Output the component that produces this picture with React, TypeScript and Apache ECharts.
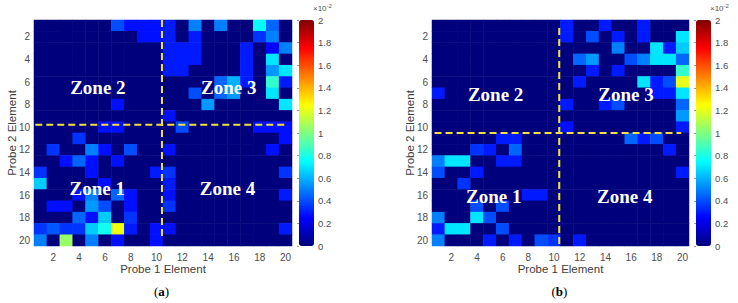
import React, { useEffect, useRef } from "react";
import * as echarts from "echarts";

// Element indices (categories for both axes)
const elements = ["1","2","3","4","5","6","7","8","9","10","11","12","13","14","15","16","17","18","19","20"];

// Colorbar scale (x10^-2)
const colorMin = 0;
const colorMax = 2;
const colorStep = 0.2;

// Probe-2 element rows (1..20), probe-1 element columns (1..20), values x10^-2 — panel (a)
const matrixA: number[][] = [
  [0,0,0,0,0,0,0.4,0.28,0.28,0.28,0.3,0,0.5,0,0.5,0,0,0.75,0.45,0],
  [0,0,0,0,0,0,0,0,0.28,0.28,0.3,0,0.3,0,0,0,0,0.35,0.5,0],
  [0,0,0,0,0,0,0,0,0,0,0.3,0.3,0.3,0,0,0,0.3,0,0.25,0.5],
  [0,0,0,0,0,0,0,0,0,0,0.3,0.3,0.3,0,0,0,0.3,0,0.7,0],
  [0,0,0,0,0,0,0,0,0,0,0.3,0.3,0,0,0,0,0.3,0,0.55,0.7],
  [0,0,0,0,0,0,0,0,0,0,0,0,0,0,0.45,0.6,0.3,0,0.85,0.3],
  [0,0,0,0,0,0,0,0,0,0,0,0,0.4,0,0.45,0.55,0,0,0.7,0],
  [0,0,0,0,0,0,0.28,0,0,0,0,0,0,0.55,0,0,0,0,0,0.7],
  [0,0,0,0,0,0,0,0,0,0,0.28,0,0,0,0,0,0,0,0,0],
  [0,0,0,0,0,0.28,0.28,0,0,0,0,0.4,0,0,0,0,0,0.28,0.28,0.28],
  [0,0,0,0.35,0,0,0,0,0,0,0,0,0,0,0,0,0,0,0,0.28],
  [0,0.35,0,0,0.5,0.28,0,0.4,0,0,0.28,0,0,0,0,0,0,0,0.28,0],
  [0,0,0.28,0.45,0.28,0,0.28,0,0,0,0,0,0,0,0,0,0,0,0,0],
  [0.35,0,0,0,0.28,0,0,0,0,0.3,0.35,0,0,0,0,0,0,0,0,0.35],
  [0.65,0,0,0,0,0.28,0,0,0,0,0.3,0,0,0,0,0,0,0,0,0],
  [0,0,0,0.28,0.5,0,0.45,0.28,0,0,0.28,0,0,0,0,0,0,0,0,0.3],
  [0,0.28,0.28,0,0.55,0.4,0,0.28,0,0,0.35,0,0,0,0,0,0,0,0,0],
  [0,0,0,0.45,0.28,0.65,0,0.35,0,0,0,0,0,0,0,0,0,0,0,0],
  [0.35,0.42,0.35,0.35,0.65,0.78,1.22,0.3,0,0.28,0.28,0,0,0,0,0,0,0,0,0.3],
  [0.5,0,1.05,0,0.5,0,0.28,0,0,0.28,0,0,0,0,0,0,0,0,0,0],
];

// Panel (b)
const matrixB: number[][] = [
  [0,0,0,0,0,0,0,0,0,0,0.3,0,0,0.3,0,0,0.3,0,0,0],
  [0,0,0,0,0,0,0,0,0,0,0.3,0,0.4,0,0.3,0,0.3,0,0,0.7],
  [0,0,0,0,0,0,0,0,0,0,0,0,0,0,0.5,0,0,0.7,0.3,0.65],
  [0,0,0,0,0,0,0,0,0,0,0,0.45,0.55,0,0,0.4,0.5,0.7,0.7,0.45],
  [0,0,0,0,0,0,0,0,0,0,0,0,0.3,0,0.3,0,0,0,0,0.85],
  [0,0,0,0,0,0,0,0,0,0,0,0.3,0,0,0,0,0.7,0.3,0.4,1.2],
  [0.3,0,0,0,0,0,0,0,0,0,0,0,0,0,0,0,0,0.3,0.3,0.7],
  [0,0,0,0,0,0,0,0,0,0,0.3,0,0,0.3,0.4,0,0,0,0,0.45],
  [0,0,0,0,0,0,0,0,0,0,0,0,0,0,0,0,0,0,0,0.55],
  [0,0,0,0,0,0,0,0,0,0,0.28,0,0,0,0,0,0,0,0,0.3],
  [0,0,0,0,0,0.3,0.3,0,0,0,0,0,0,0,0,0.45,0.3,0.4,0,0],
  [0,0,0,0.35,0.3,0,0.45,0,0,0,0,0,0,0,0,0,0,0,0.3,0],
  [0.5,0.7,0.7,0,0,0.3,0.3,0,0,0,0,0,0,0,0,0,0,0,0,0],
  [0.4,0,0,0.3,0,0,0,0,0,0,0,0,0,0,0,0,0,0,0,0.3],
  [0,0,0.35,0,0,0,0,0,0,0,0,0,0,0,0,0,0,0,0,0],
  [0,0,0,0,0,0,0,0.3,0.3,0,0,0,0,0,0,0,0,0,0,0],
  [0,0,0,0.4,0,0.4,0,0,0,0,0,0,0,0,0,0,0,0,0,0],
  [0.5,0,0,0.7,0.4,0,0,0,0,0,0,0,0,0,0,0,0,0,0,0],
  [0.3,0.7,0.7,0,0,0.4,0,0,0,0,0,0,0,0,0,0,0,0,0,0],
  [0.5,0,0,0,0.3,0,0.3,0,0.4,0.35,0,0.3,0,0,0,0,0,0,0,0],
];

// Zone annotation positions (element coordinates)
const zonesA = [
  { name: "Zone 2", value: [5.45, 6.5] },
  { name: "Zone 3", value: [15.6, 6.5] },
  { name: "Zone 1", value: [5.4, 15.4] },
  { name: "Zone 4", value: [15.5, 15.4] },
];
const zonesB = [
  { name: "Zone 2", value: [5.45, 7.1] },
  { name: "Zone 3", value: [15.6, 7.1] },
  { name: "Zone 1", value: [5.3, 16.1] },
  { name: "Zone 4", value: [15.5, 16.1] },
];

// Zone dividers (element coordinates)
const dividerVA = [[10.42, 0.5], [10.42, 19.9]];
const dividerHA = [[0.6, 9.76], [20.0, 9.76]];
const dividerVB = [[10.4, 1.2], [10.4, 20.5]];
const dividerHB = [[0.7, 10.5], [19.9, 10.5]];

const jet = ["#00007c", "#0000ff", "#0080ff", "#00ffff", "#80ff80", "#ffff00", "#ff8000", "#ff0000", "#800000"];
const tickColor = "#4d4d4d";
const sans = "Liberation Sans, Arial, sans-serif";
const serif = "Liberation Serif, Times New Roman, serif";

function toCells(m: number[][]) {
  const out: number[][] = [];
  m.forEach((row, r) => row.forEach((v, c) => out.push([c, r, v])));
  return out;
}

export default function App() {
  const ref = useRef<HTMLDivElement>(null);
  useEffect(() => {
    if (!ref.current) return;
    const chart = echarts.init(ref.current, undefined, { renderer: "svg" });

    const panels = [
      { left: 34, width: 258, cbLeft: 299 },
      { left: 432, width: 257, cbLeft: 696 },
    ];
    const top = 20;
    const height = 226;

    const grids: any[] = [];
    const xAxes: any[] = [];
    const yAxes: any[] = [];
    panels.forEach((p) => {
      grids.push({ left: p.left, top, width: p.width, height });
      grids.push({ left: p.cbLeft, top, width: 15, height });
    });

    panels.forEach((_, i) => {
      const g = i * 2;
      xAxes.push({
        type: "category", gridIndex: g, data: elements, position: "bottom",
        axisLine: { show: false }, axisTick: { show: false }, splitLine: { show: false },
        axisLabel: { interval: (idx: number) => idx % 2 === 1, color: tickColor, fontFamily: sans, fontSize: 10, margin: 6 },
        name: "Probe 1 Element", nameLocation: "middle", nameGap: 17, nameMoveOverlap: false,
        nameTextStyle: { color: "#404040", fontFamily: sans, fontSize: 11.5 },
      });
      yAxes.push({
        type: "category", gridIndex: g, data: elements, inverse: true,
        axisLine: { show: false }, axisTick: { show: false }, splitLine: { show: false },
        axisLabel: { interval: (idx: number) => idx % 2 === 1, color: tickColor, fontFamily: sans, fontSize: 10, margin: 4 },
        name: "Probe 2 Element", nameLocation: "middle", nameGap: 16, nameRotate: 90, nameMoveOverlap: false,
        nameTextStyle: { color: "#404040", fontFamily: sans, fontSize: 11.5 },
      });
      xAxes.push({ type: "value", gridIndex: g, min: 0.5, max: 20.5, show: false });
      yAxes.push({ type: "value", gridIndex: g, min: 0.5, max: 20.5, inverse: true, show: false });
      xAxes.push({ type: "value", gridIndex: g + 1, min: 0, max: 1, show: false });
      yAxes.push({
        type: "value", gridIndex: g + 1, min: colorMin, max: colorMax, interval: colorStep, position: "right",
        axisLine: { show: false }, splitLine: { show: false },
        axisTick: { show: true, inside: true, length: 2, lineStyle: { color: "#555", width: 0.6 } },
        axisLabel: { color: tickColor, fontFamily: sans, fontSize: 9.5, margin: 4 },
      });
    });

    const series: any[] = [];
    [matrixA, matrixB].forEach((m, i) => {
      series.push({
        type: "heatmap", xAxisIndex: 3 * i, yAxisIndex: 3 * i, data: toCells(m),
        itemStyle: { borderWidth: 0 }, emphasis: { disabled: true },
      });
    });
    const dividers = [[dividerVA, dividerHA], [dividerVB, dividerHB]];
    dividers.forEach((pair, i) => {
      pair.forEach((d) => {
        series.push({
          type: "line", xAxisIndex: 3 * i + 1, yAxisIndex: 3 * i + 1, data: d, symbol: "none",
          lineStyle: { color: "#f3e23a", width: 2, type: [7, 4] }, z: 5, silent: true,
        });
      });
    });
    [zonesA, zonesB].forEach((z, i) => {
      series.push({
        type: "scatter", xAxisIndex: 3 * i + 1, yAxisIndex: 3 * i + 1, data: z, symbolSize: 0,
        itemStyle: { color: "#ffffff", opacity: 1 }, z: 6, silent: true,
        emphasis: { disabled: true },
        label: {
          show: true, position: "inside", formatter: (p: any) => p.name, color: "#ffffff", opacity: 1,
          textBorderWidth: 0, fontFamily: serif, fontWeight: "bold", fontSize: 19,
        },
      });
    });

    const visualMaps = panels.map((p, i) => ({
      type: "continuous", seriesIndex: i, min: colorMin, max: colorMax, calculable: false,
      orient: "vertical", left: p.cbLeft, top, itemWidth: 15, itemHeight: height, padding: 0,
      inRange: { color: jet },
    }));

    const graphic: any[] = [];
    panels.forEach((p, i) => {
      graphic.push({
        type: "text", left: p.cbLeft + 14, top: 3,
        style: {
          text: "×10{sup|-2}", fill: "#555", font: `8px ${sans}`,
          rich: { sup: { fontSize: 6, verticalAlign: "top", padding: [0, 0, 4, 0], fill: "#555" } },
        },
      });
      graphic.push({
        type: "text", left: p.left + p.width / 2 - 9, top: 285,
        style: {
          text: `({b|${i === 0 ? "a" : "b"}})`, fill: "#000", font: `13px ${serif}`,
          rich: { b: { fontWeight: "bold", fontSize: 13, fontFamily: serif, fill: "#000" } },
        },
      });
    });

    chart.setOption({
      animation: false,
      backgroundColor: "#ffffff",
      grid: grids,
      xAxis: xAxes,
      yAxis: yAxes,
      visualMap: visualMaps,
      series,
      graphic,
    });
    return () => chart.dispose();
  }, []);

  return <div ref={ref} style={{ position: "absolute", left: 0, top: 0, width: 738, height: 303 }} />;
}
